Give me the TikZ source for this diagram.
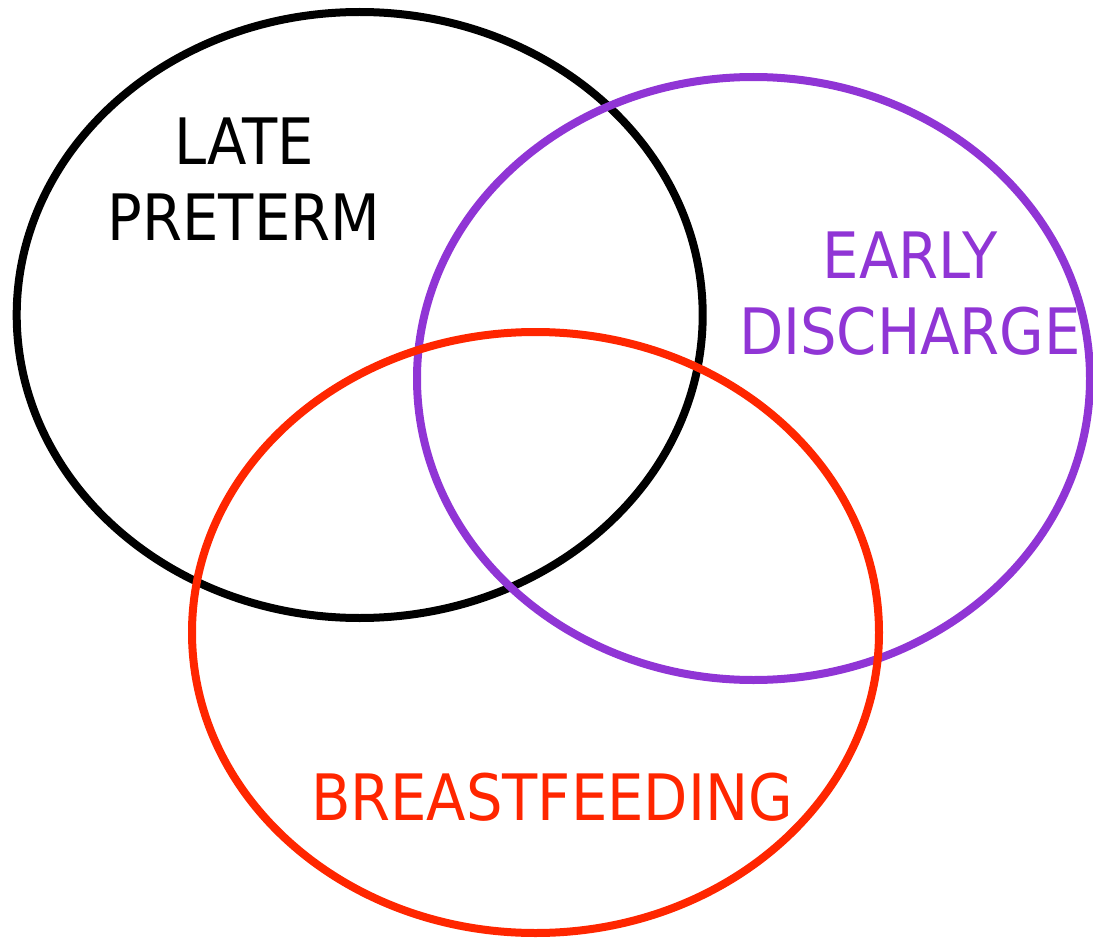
\documentclass[tikz,border=0pt]{standalone}
\usepackage{fontspec}
\setmainfont{DejaVu Sans Condensed}
\usepackage{xcolor}
\usepackage{tikz}
\definecolor{dischargepurple}{HTML}{9035D5}
\definecolor{feedingred}{HTML}{FF2600}
\tikzset{
  ring/.style={line width=8pt},
  label/.style={align=center,inner sep=0pt,font=\fontsize{64}{76}\selectfont}
}

\begin{document}
\begin{tikzpicture}[x=1pt,y=-1pt]
    \useasboundingbox (0,0) rectangle (1093,939);
    \draw[ring,black] (359.7,315) ellipse [x radius=343,y radius=303];
    \draw[ring,dischargepurple] (753.5,378.5) ellipse [x radius=336.5,y radius=301.5];
    \draw[ring,feedingred] (535.5,632.5) ellipse [x radius=343.5,y radius=300.5];
    \node[label,black] (late) at (244,179) {LATE\\PRETERM};
    \node[label,dischargepurple] (early) at (910,294) {EARLY\\DISCHARGE};
    \node[label,feedingred] (breast) at (552,797.5) {BREASTFEEDING};
  \end{tikzpicture}
\end{document}
